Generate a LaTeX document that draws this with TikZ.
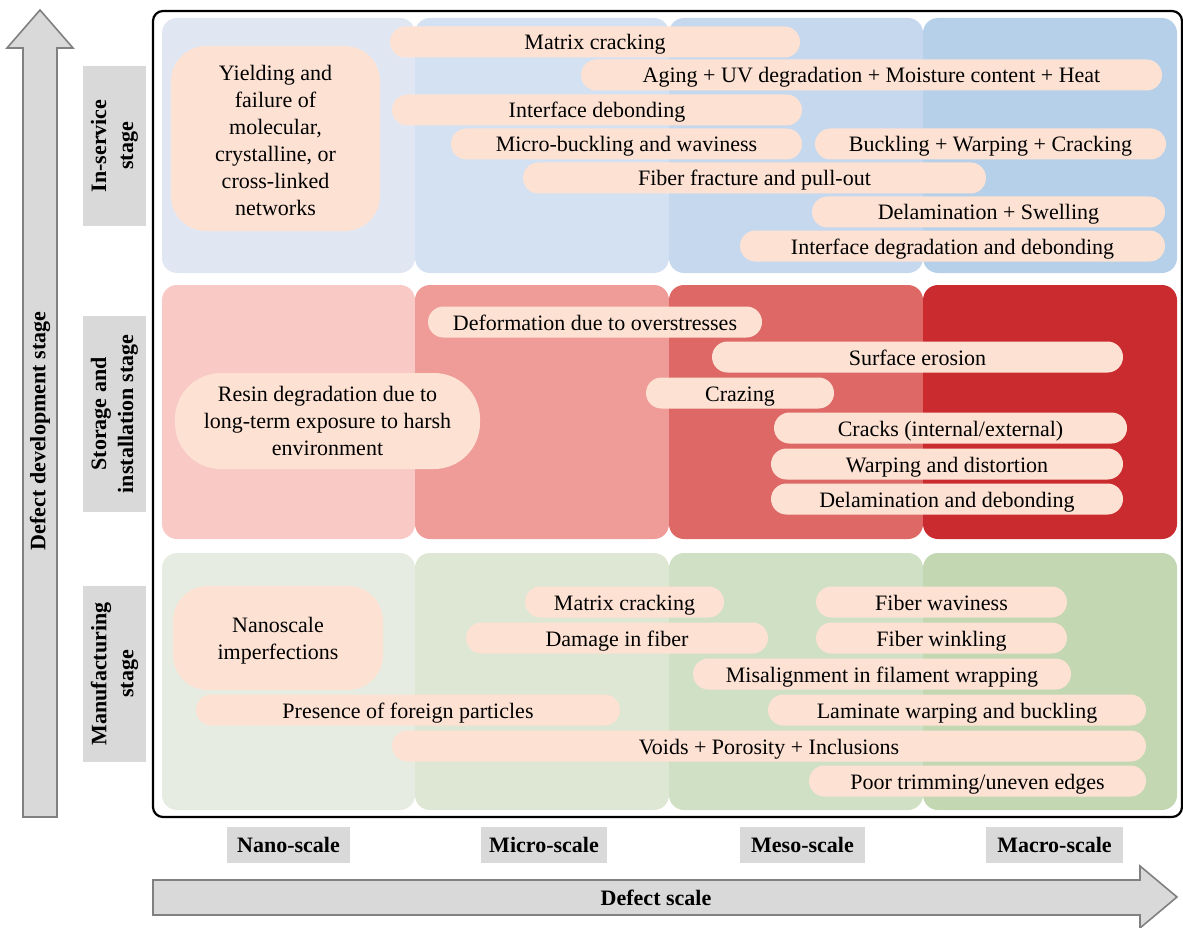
\documentclass[tikz,border=0pt]{standalone}
\usepackage{fontspec}
\setmainfont{Liberation Serif}

% cell colours: blue (in-service), red (storage), green (manufacturing)
\definecolor{bA}{RGB}{224,231,243}
\definecolor{bB}{RGB}{211,225,242}
\definecolor{bC}{RGB}{197,216,238}
\definecolor{bD}{RGB}{181,208,232}
\definecolor{rA}{RGB}{248,201,197}
\definecolor{rB}{RGB}{239,156,153}
\definecolor{rC}{RGB}{222,104,101}
\definecolor{rD}{RGB}{202,43,47}
\definecolor{gA}{RGB}{231,236,226}
\definecolor{gB}{RGB}{221,231,211}
\definecolor{gC}{RGB}{208,224,196}
\definecolor{gD}{RGB}{194,215,178}
\definecolor{pillfill}{RGB}{253,226,212}
\definecolor{labelgray}{RGB}{217,217,217}
\definecolor{arrowedge}{RGB}{128,128,128}

% one rounded defect tag: name, left x, right x, centre y, text
\newcommand\pill[5]{\node[pill, minimum width={#3-#2}] (#1) at ({(#2+#3)/2},#4) {#5};}

\begin{document}
\begin{tikzpicture}[x=1pt,y=-1pt,
  base/.style={font=\fontsize{22}{27}\selectfont},
  pill/.style={base, fill=pillfill, rounded corners=15.5pt, minimum height=31pt,
    inner sep=0pt, text height=19pt, text depth=3pt},
  bigpill/.style={base, fill=pillfill, inner sep=0pt, align=center},
  stagebox/.style={fill=labelgray, rotate=90, inner sep=0pt, align=center,
    font=\fontsize{22}{27}\selectfont\bfseries, minimum height=63pt},
  scalebox/.style={fill=labelgray, inner sep=0pt, minimum height=36pt,
    font=\fontsize{22}{27}\selectfont\bfseries},
  cell/.style={rounded corners=15pt},
  bigarrow/.style={fill=labelgray, draw=arrowedge, line width=1.6pt, line join=miter}
]
\useasboundingbox (0,0) rectangle (1183,928);

% axis arrows
\draw[bigarrow] (23,817) -- (23,48) -- (7,48) -- (40,10) -- (73,48) -- (57,48) -- (57,817) -- cycle;
\node[base, font=\fontsize{22}{27}\selectfont\bfseries, rotate=90] (devstage) at (40,431) {Defect development stage};
\draw[bigarrow] (153,880) -- (1140,880) -- (1140,866) -- (1177,897) -- (1140,928) -- (1140,915) -- (153,915) -- cycle;
\node[font=\fontsize{22}{27}\selectfont\bfseries] (defscale) at (656,898) {Defect scale};

% outer frame
\draw[line width=2.2pt, rounded corners=10pt] (153,11) rectangle (1182,817);

% background cells
\fill[cell, bA] (162,18) rectangle (415,273);
\fill[cell, bB] (415,18) rectangle (669,273);
\fill[cell, bC] (669,18) rectangle (923,273);
\fill[cell, bD] (923,18) rectangle (1177,273);
\fill[cell, rA] (162,285) rectangle (415,539);
\fill[cell, rB] (415,285) rectangle (669,539);
\fill[cell, rC] (669,285) rectangle (923,539);
\fill[cell, rD] (923,285) rectangle (1177,539);
\fill[cell, gA] (162,553) rectangle (415,810);
\fill[cell, gB] (415,553) rectangle (669,810);
\fill[cell, gC] (669,553) rectangle (923,810);
\fill[cell, gD] (923,553) rectangle (1177,810);

% stage labels
\node[stagebox, minimum width=160pt] (inservice) at (114.5,146) {In-service\\stage};
\node[stagebox, minimum width=196pt] (storage) at (114.5,414) {Storage and\\installation stage};
\node[stagebox, minimum width=176pt] (manuf) at (114.5,674) {Manufacturing\\stage};

% scale labels
\node[scalebox, minimum width=123pt] (nano) at (288.5,845) {Nano-scale};
\node[scalebox, minimum width=126pt] (micro) at (544,845) {Micro-scale};
\node[scalebox, minimum width=125pt] (meso) at (802.5,845) {Meso-scale};
\node[scalebox, minimum width=137pt] (macro) at (1054.5,845) {Macro-scale};

% in-service defects
\node[bigpill, rounded corners=35pt, minimum width=209pt, minimum height=185pt] (yield) at (275.5,138.5) {};
\node[bigpill, fill=none] (yieldtext) at (275.5,140.5)
  {Yielding and\\failure of\\molecular,\\crystalline, or\\cross-linked\\networks};
\pill{mcA}{390}{800}{42}{Matrix cracking}
\pill{aging}{581}{1162}{75}{Aging + UV degradation + Moisture content + Heat}
\pill{intdeb}{392}{802}{110}{Interface debonding}
\pill{microbuck}{451}{802}{144}{Micro-buckling and waviness}
\pill{buckwarp}{815}{1166}{144}{Buckling + Warping + Cracking}
\pill{fibfrac}{523}{986}{178}{Fiber fracture and pull-out}
\pill{delswell}{812}{1165}{212}{Delamination + Swelling}
\pill{intdeg}{740}{1165}{246}{Interface degradation and debonding}

% storage and installation defects
\node[bigpill, rounded corners=46pt, minimum width=305pt, minimum height=96pt] (resin) at (327.5,421)
  {Resin degradation due to\\long-term exposure to harsh\\environment};
\pill{deform}{428}{762}{322}{Deformation due to overstresses}
\pill{surf}{712}{1123}{357}{Surface erosion}
\pill{craz}{646}{834}{393}{Crazing}
\pill{cracks}{774}{1127}{428}{Cracks (internal/external)}
\pill{warpdist}{771}{1123}{464}{Warping and distortion}
\pill{delamdeb}{771}{1123}{499}{Delamination and debonding}

% manufacturing defects
\node[bigpill, rounded corners=35pt, minimum width=210pt, minimum height=104pt] (nanoimp) at (278,638) {};
\node[bigpill, fill=none] (nanotext) at (278,641) {Nanoscale\\imperfections};
\pill{mcB}{525}{724}{602}{Matrix cracking}
\pill{fibwav}{816}{1067}{602}{Fiber waviness}
\pill{damage}{466}{768}{638}{Damage in fiber}
\pill{fibwink}{816}{1067}{638}{Fiber winkling}
\pill{misal}{693}{1071}{674}{Misalignment in filament wrapping}
\pill{foreign}{196}{620}{710}{Presence of foreign particles}
\pill{laminate}{768}{1146}{710}{Laminate warping and buckling}
\pill{voids}{392}{1146}{746}{Voids + Porosity + Inclusions}
\pill{trim}{809}{1146}{781}{Poor trimming/uneven edges}
\end{tikzpicture}
\end{document}
